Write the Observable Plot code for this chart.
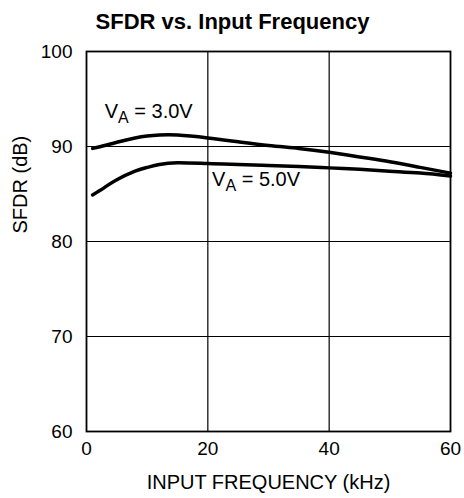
<!DOCTYPE html>
<html>
<head>
<meta charset="utf-8">
<script src="https://cdn.jsdelivr.net/npm/d3@7"></script>
<script src="https://cdn.jsdelivr.net/npm/@observablehq/plot@0.6"></script>
<style>
  html, body { margin: 0; padding: 0; background: #fff; }
  svg { font-family: "Liberation Sans", Arial, Helvetica, sans-serif; }
</style>
</head>
<body>
<div id="chart"></div>
<script>
const title = "SFDR vs. Input Frequency";
const xLabel = "INPUT FREQUENCY (kHz)";
const yLabel = "SFDR (dB)";
const xTicks = [0, 20, 40, 60];
const yTicks = [60, 70, 80, 90, 100];
const freq = [1, 3, 5, 8, 10, 12, 15, 20, 25, 30, 35, 40, 45, 50, 55, 60];
const sfdr30 = [89.8, 90.1, 90.45, 90.9, 91.1, 91.2, 91.2, 90.9, 90.5, 90.1, 89.8, 89.4, 88.9, 88.4, 87.8, 87.2];
const sfdr50 = [84.9, 85.7, 86.5, 87.4, 87.8, 88.1, 88.3, 88.2, 88.1, 88.0, 87.9, 87.75, 87.6, 87.4, 87.2, 86.9];
const seriesNames = ["3.0V", "5.0V"];
const labelX = [3.0, 20.7];
const labelY = [92.95, 85.84];

const rows = [];
freq.forEach((f, i) => {
  rows.push({series: seriesNames[0], f, v: sfdr30[i]});
  rows.push({series: seriesNames[1], f, v: sfdr50[i]});
});
const labels = seriesNames.map((s, i) => ({s, x: labelX[i], y: labelY[i]}));

const font = 19;
const plot = Plot.plot({
  width: 464,
  height: 498,
  marginLeft: 86,
  marginRight: 14,
  marginTop: 51,
  marginBottom: 67,
  style: {fontSize: font + "px", fontFamily: '"Liberation Sans", Arial, Helvetica, sans-serif', color: "#000", background: "#fff"},
  x: {domain: [0, 60]},
  y: {domain: [60, 100]},
  marks: [
    Plot.gridX([20, 40], {stroke: "#000", strokeOpacity: 1, strokeWidth: 1.2}),
    Plot.gridY([70, 80, 90], {stroke: "#000", strokeOpacity: 1, strokeWidth: 1.2}),
    Plot.frame({stroke: "#000", strokeWidth: 1.8}),
    Plot.axisX(xTicks, {tickSize: 0, tickPadding: 10, label: null, fontSize: font}),
    Plot.axisY(yTicks, {tickSize: 0, tickPadding: 14, label: null, fontSize: font}),
    Plot.line(rows, {x: "f", y: "v", z: "series", stroke: "#000", strokeWidth: 3.5, curve: "natural"}),
    Plot.text(labels, {x: "x", y: "y", text: d => "V|A| = " + d.s, textAnchor: "start", lineAnchor: "bottom", fontSize: 20, fill: "#000", className: "vlabel"}),
    Plot.text([title], {frameAnchor: "top", dx: -36, dy: -30, lineAnchor: "middle", fontSize: 22, fontWeight: "bold", fill: "#000"}),
    Plot.text([xLabel], {frameAnchor: "bottom", dy: 51, lineAnchor: "middle", fontSize: 20, fill: "#000"}),
    Plot.text([yLabel], {frameAnchor: "left", rotate: -90, dx: -66, dy: -8, lineAnchor: "middle", fontSize: 20, fill: "#000"})
  ]
});
document.getElementById("chart").appendChild(plot);

// render subscripts as tspans
d3.select(plot).selectAll("g.vlabel text, .vlabel text").each(function() {
  const t = this.textContent.split("|");
  if (t.length !== 3) return;
  const el = d3.select(this);
  el.text(null);
  el.append("tspan").text(t[0]);
  el.append("tspan").attr("dy", 5).attr("font-size", 16).text(t[1]);
  el.append("tspan").attr("dy", -5).text(t[2]);
});
</script>
</body>
</html>
